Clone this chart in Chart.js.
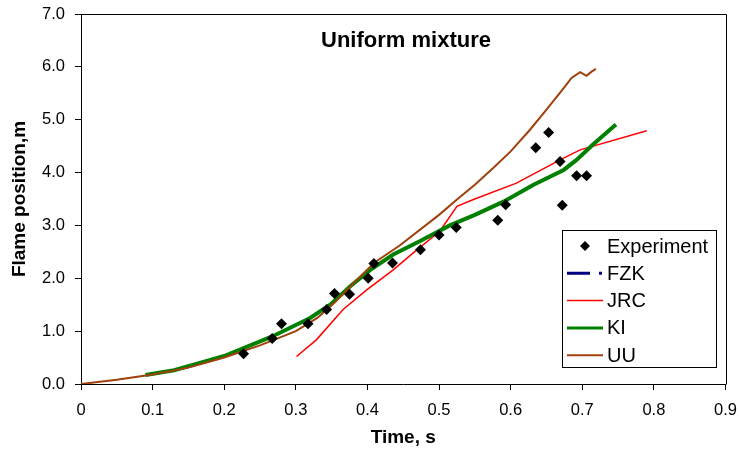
<!DOCTYPE html>
<html>
<head>
<meta charset="utf-8">
<title>Uniform mixture</title>
<script src="https://cdn.jsdelivr.net/npm/chart.js@4.4.1/dist/chart.umd.min.js"></script>
<style>
    html, body { margin: 0; padding: 0; background: #ffffff; }
    #wrap { width: 740px; height: 449px; position: relative; }
</style>
</head>
<body>
<div id="wrap"><canvas id="plot"></canvas></div>
<script>
"use strict";

// data (time in s, flame position in m)
const expTime = [0.227, 0.267, 0.280, 0.317, 0.343, 0.354, 0.375, 0.401, 0.409, 0.435, 0.474,
    0.500, 0.524, 0.582, 0.593, 0.635, 0.653, 0.669, 0.672, 0.692, 0.706];
const expPos = [0.57, 0.86, 1.14, 1.14, 1.41, 1.71, 1.70, 2.00, 2.28, 2.29, 2.54,
    2.82, 2.96, 3.10, 3.39, 4.47, 4.76, 4.21, 3.38, 3.94, 3.94];

const fzkTime = [];
const fzkPos = [];

const jrcTime = [0.301, 0.329, 0.366, 0.399, 0.436, 0.464, 0.501, 0.525, 0.548, 0.608, 0.669, 0.697, 0.790];
const jrcPos = [0.52, 0.84, 1.41, 1.78, 2.16, 2.48, 2.89, 3.36, 3.49, 3.80, 4.24, 4.43, 4.79];

const kiTime = [0.090, 0.130, 0.166, 0.200, 0.267, 0.320, 0.348, 0.376, 0.404, 0.436, 0.473,
    0.515, 0.550, 0.590, 0.632, 0.674, 0.692, 0.715, 0.747];
const kiPos = [0.17, 0.26, 0.40, 0.53, 0.90, 1.25, 1.50, 1.85, 2.16, 2.45, 2.70,
    3.00, 3.20, 3.45, 3.77, 4.05, 4.24, 4.53, 4.91];

const uuTime = [0, 0.05, 0.10, 0.15, 0.20, 0.25, 0.30, 0.33, 0.355, 0.38, 0.41, 0.445, 0.50,
    0.525, 0.55, 0.576, 0.60, 0.627, 0.65, 0.676, 0.685, 0.697, 0.706, 0.713, 0.719];
const uuPos = [0, 0.08, 0.18, 0.31, 0.50, 0.73, 1.00, 1.25, 1.55, 1.90, 2.30, 2.62, 3.20,
    3.49, 3.77, 4.09, 4.40, 4.81, 5.19, 5.63, 5.79, 5.90, 5.83, 5.91, 5.96];

const xTicks = [0, 0.1, 0.2, 0.3, 0.4, 0.5, 0.6, 0.7, 0.8, 0.9];
const yTicks = [0, 1, 2, 3, 4, 5, 6, 7];

const chartTitle = 'Uniform mixture';
const xTitle = 'Time, s';
const yTitle = 'Flame position,m';

const fontFamily = '"Liberation Sans", Arial, Helvetica, sans-serif';

function toPoints(xs, ys) {
    let pts = [];
    for (let i = 0; i < xs.length; i++) {
        pts.push({ x: xs[i], y: ys[i] });
    }
    return pts;
}

// frame on top and right of the plot area + title inside it
const framePlugin = {
    id: 'frame',
    afterDraw(chart) {
        const ctx = chart.ctx;
        const a = chart.chartArea;
        ctx.save();
        ctx.strokeStyle = '#000';
        ctx.lineWidth = 1;
        ctx.beginPath();
        ctx.moveTo(Math.round(a.left) + 0.5, Math.round(a.top) + 0.5);
        ctx.lineTo(Math.round(a.right) + 0.5, Math.round(a.top) + 0.5);
        ctx.lineTo(Math.round(a.right) + 0.5, Math.round(a.bottom) + 0.5);
        ctx.stroke();

        ctx.fillStyle = '#000';
        ctx.font = 'bold 22px ' + fontFamily;
        ctx.textAlign = 'center';
        ctx.textBaseline = 'middle';
        ctx.fillText(chartTitle, 406, 41);
        ctx.restore();
    }
};

// boxed legend sitting inside the plot area
const legendPlugin = {
    id: 'boxLegend',
    afterDraw(chart) {
        const ctx = chart.ctx;
        ctx.save();
        ctx.fillStyle = '#fff';
        ctx.fillRect(562, 230, 155, 138);
        ctx.strokeStyle = '#000';
        ctx.lineWidth = 1;
        ctx.strokeRect(562.5, 230.5, 154, 137);

        ctx.font = '20px ' + fontFamily;
        ctx.textBaseline = 'middle';
        ctx.textAlign = 'left';
        chart.data.datasets.forEach((ds, i) => {
            const y = 246 + i * 27.3;
            if (ds.showLine === false) {
                const r = 5;
                ctx.fillStyle = ds.backgroundColor;
                ctx.beginPath();
                ctx.moveTo(585, y - r);
                ctx.lineTo(585 + r, y);
                ctx.lineTo(585, y + r);
                ctx.lineTo(585 - r, y);
                ctx.closePath();
                ctx.fill();
            } else {
                ctx.strokeStyle = ds.borderColor;
                ctx.lineWidth = Math.min(ds.borderWidth, 3);
                ctx.setLineDash(ds.borderDash || []);
                ctx.beginPath();
                ctx.moveTo(567, y);
                ctx.lineTo(603, y);
                ctx.stroke();
                ctx.setLineDash([]);
            }
            ctx.fillStyle = '#000';
            ctx.fillText(ds.label, 607, y + 1);
        });
        ctx.restore();
    }
};

Chart.defaults.font.family = fontFamily;
Chart.defaults.color = '#000';

const plotCanvas = document.getElementById('plot');
const chart = new Chart(plotCanvas, {
    type: 'scatter',
    data: {
        datasets: [{
            label: 'Experiment',
            data: toPoints(expTime, expPos),
            showLine: false,
            pointStyle: 'rectRot',
            pointRadius: 5.5,
            backgroundColor: '#000',
            borderColor: '#000',
            borderWidth: 0,
            order: 0
        }, {
            label: 'FZK',
            data: toPoints(fzkTime, fzkPos),
            showLine: true,
            borderColor: '#000080',
            borderWidth: 3,
            borderDash: [23, 9, 3, 9],
            pointRadius: 0,
            order: 4
        }, {
            label: 'JRC',
            data: toPoints(jrcTime, jrcPos),
            showLine: true,
            borderColor: '#ff0000',
            borderWidth: 1.5,
            pointRadius: 0,
            order: 3
        }, {
            label: 'KI',
            data: toPoints(kiTime, kiPos),
            showLine: true,
            borderColor: '#008000',
            borderWidth: 4,
            pointRadius: 0,
            order: 2
        }, {
            label: 'UU',
            data: toPoints(uuTime, uuPos),
            showLine: true,
            borderColor: '#a0400b',
            borderWidth: 2,
            pointRadius: 0,
            order: 1
        }]
    },
    options: {
        responsive: true,
        maintainAspectRatio: false,
        animation: false,
        devicePixelRatio: 1,
        layout: { padding: { left: 0, right: 14.5, top: 14, bottom: 0 } },
        plugins: {
            legend: { display: false },
            tooltip: { enabled: false },
            title: { display: false }
        },
        scales: {
            x: {
                type: 'linear',
                min: 0,
                max: 0.9,
                afterBuildTicks: (scale) => { scale.ticks = xTicks.map(v => ({ value: v })); },
                afterFit: (scale) => {
                    scale.height = 65;
                    scale.paddingLeft = 0;
                    scale.paddingRight = 0;
                },
                ticks: {
                    font: { size: 16.5 },
                    padding: 11,
                    maxRotation: 0,
                    callback: (v) => v === 0 ? '0' : v.toFixed(1)
                },
                grid: { drawOnChartArea: false, drawTicks: true, tickLength: 6, color: '#000' },
                border: { display: true, color: '#000', width: 1 },
                title: { display: true, text: xTitle, font: { size: 19, weight: 'bold' }, padding: { top: 0, bottom: 0 } }
            },
            y: {
                type: 'linear',
                min: 0,
                max: 7,
                afterBuildTicks: (scale) => { scale.ticks = yTicks.map(v => ({ value: v })); },
                afterFit: (scale) => {
                    scale.width = 81;
                    scale.paddingTop = 0;
                    scale.paddingBottom = 0;
                },
                ticks: {
                    font: { size: 16.5 },
                    padding: 10,
                    callback: (v) => v.toFixed(1)
                },
                grid: { drawOnChartArea: false, drawTicks: true, tickLength: 6, color: '#000' },
                border: { display: true, color: '#000', width: 1 },
                title: { display: true, text: yTitle, font: { size: 19, weight: 'bold' }, padding: { top: 8, bottom: 0 } }
            }
        }
    },
    plugins: [framePlugin, legendPlugin]
});
</script>
</body>
</html>
